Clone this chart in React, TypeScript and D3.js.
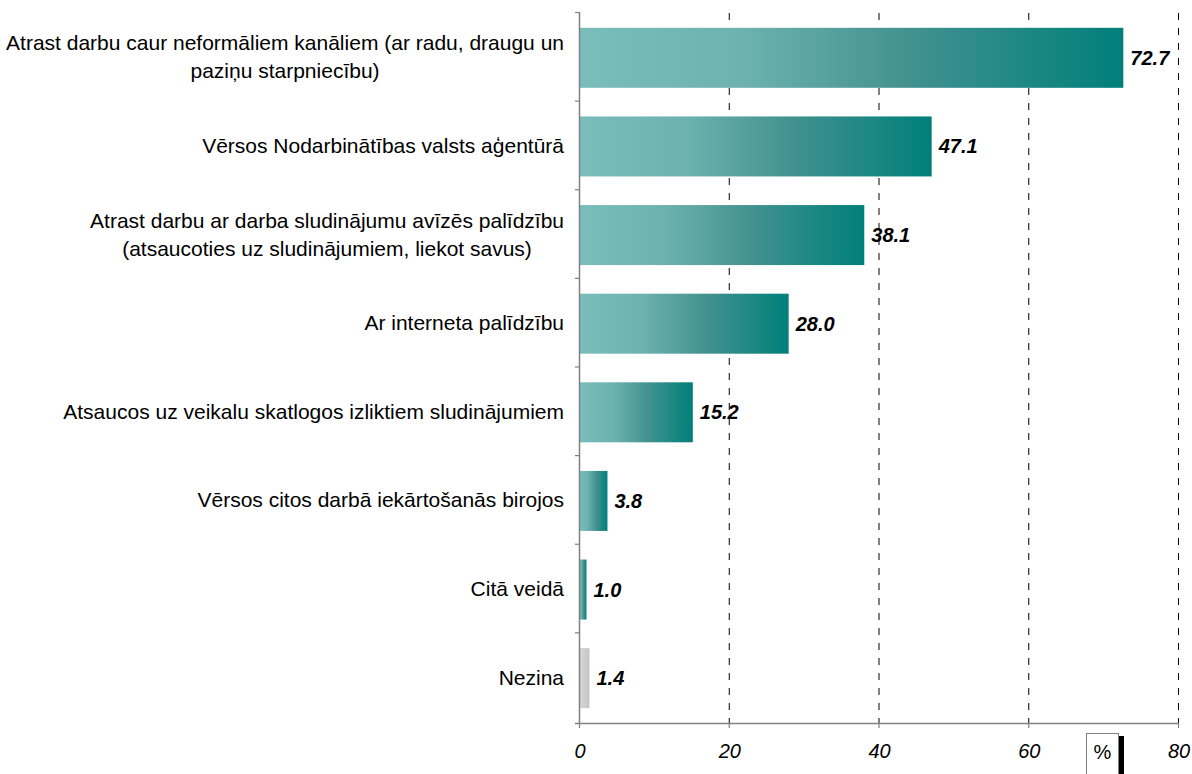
import React, { useEffect, useRef } from "react";
import * as d3 from "d3";

const categories: string[][] = [
  ["Atrast darbu caur neformāliem kanāliem (ar radu, draugu un", "paziņu starpniecību)"],
  ["Vērsos Nodarbinātības valsts aģentūrā"],
  ["Atrast darbu ar darba sludinājumu avīzēs palīdzību", "(atsaucoties uz sludinājumiem, liekot savus)"],
  ["Ar interneta palīdzību"],
  ["Atsaucos uz veikalu skatlogos izliktiem sludinājumiem"],
  ["Vērsos citos darbā iekārtošanās birojos"],
  ["Citā veidā"],
  ["Nezina"],
];
const values: number[] = [72.7, 47.1, 38.1, 28.0, 15.2, 3.8, 1.0, 1.4];
const isGrey: boolean[] = [false, false, false, false, false, false, false, true];
const xTicks: number[] = [0, 20, 40, 60, 80];
const unitLabel = "%";

const W = 1192;
const H = 774;
const FONT = "'Liberation Sans', Arial, sans-serif";

export default function App() {
  const ref = useRef<SVGSVGElement | null>(null);

  useEffect(() => {
    const svg = d3.select(ref.current);
    svg.selectAll("*").remove();

    const x = d3.scaleLinear().domain([0, 80]).range([579, 1178]);
    const y = d3
      .scaleBand<number>()
      .domain(d3.range(categories.length))
      .range([12, 721])
      .padding(0);
    const barH = 60;
    const barOff = (y.bandwidth() - barH) / 2 + 1.5;

    const defs = svg.append("defs");
    const teal = defs
      .append("linearGradient")
      .attr("id", "gTeal")
      .attr("x1", "0")
      .attr("x2", "1")
      .attr("y1", "0")
      .attr("y2", "0");
    [
      [0, "#7ABEBB"],
      [0.3, "#6DB2AF"],
      [0.6, "#439290"],
      [1, "#007F7A"],
    ].forEach(([o, c]) => teal.append("stop").attr("offset", o as number).attr("stop-color", c as string));
    const grey = defs
      .append("linearGradient")
      .attr("id", "gGrey")
      .attr("x1", "0")
      .attr("x2", "1")
      .attr("y1", "0")
      .attr("y2", "0");
    [
      [0, "#DADADA"],
      [1, "#C4C4C4"],
    ].forEach(([o, c]) => grey.append("stop").attr("offset", o as number).attr("stop-color", c as string));

    // gridlines
    svg
      .append("g")
      .selectAll("line")
      .data(xTicks.filter((t) => t > 0))
      .join("line")
      .attr("x1", (d) => x(d) + 0.5)
      .attr("x2", (d) => x(d) + 0.5)
      .attr("y1", 13)
      .attr("y2", 723)
      .attr("stroke", "#000")
      .attr("stroke-width", 1)
      .attr("stroke-dasharray", "7,8");

    // bars
    svg
      .append("g")
      .selectAll("rect")
      .data(values)
      .join("rect")
      .attr("x", x(0))
      .attr("y", (_, i) => (y(i) as number) + barOff)
      .attr("width", (d) => x(d) - x(0))
      .attr("height", barH)
      .attr("fill", (_, i) => (isGrey[i] ? "url(#gGrey)" : "url(#gTeal)"));

    // value labels
    svg
      .append("g")
      .selectAll("text")
      .data(values)
      .join("text")
      .attr("x", (d) => x(d) + 7)
      .attr("y", (_, i) => (y(i) as number) + barOff + barH / 2 + 7)
      .attr("font-family", FONT)
      .attr("font-size", 20)
      .attr("font-weight", "bold")
      .attr("font-style", "italic")
      .attr("fill", "#000")
      .text((d) => d.toFixed(1));

    // y axis
    const axisColor = "#808080";
    svg
      .append("line")
      .attr("x1", x(0) + 0.5)
      .attr("x2", x(0) + 0.5)
      .attr("y1", 12)
      .attr("y2", 724)
      .attr("stroke", axisColor)
      .attr("stroke-width", 1.5);
    svg
      .append("g")
      .selectAll("line")
      .data(d3.range(categories.length))
      .join("line")
      .attr("x1", x(0) - 4)
      .attr("x2", x(0))
      .attr("y1", (i) => (y(i) as number) + 0.5)
      .attr("y2", (i) => (y(i) as number) + 0.5)
      .attr("stroke", axisColor)
      .attr("stroke-width", 1.2);

    // x axis
    svg
      .append("line")
      .attr("x1", x(0) - 4)
      .attr("x2", x(80) + 1)
      .attr("y1", 723.5)
      .attr("y2", 723.5)
      .attr("stroke", axisColor)
      .attr("stroke-width", 1.5);
    svg
      .append("g")
      .selectAll("line")
      .data(xTicks)
      .join("line")
      .attr("x1", (d) => x(d) + 0.5)
      .attr("x2", (d) => x(d) + 0.5)
      .attr("y1", 723)
      .attr("y2", 728)
      .attr("stroke", axisColor)
      .attr("stroke-width", 1.2);
    svg
      .append("g")
      .selectAll("text")
      .data(xTicks)
      .join("text")
      .attr("x", (d) => x(d) + 1)
      .attr("y", 758)
      .attr("text-anchor", "middle")
      .attr("font-family", FONT)
      .attr("font-size", 20)
      .attr("font-style", "italic")
      .attr("fill", "#000")
      .text((d) => String(d));

    // % box
    svg
      .append("rect")
      .attr("x", 1118)
      .attr("y", 736)
      .attr("width", 6)
      .attr("height", 40)
      .attr("fill", "#000");
    svg
      .append("rect")
      .attr("x", 1086.5)
      .attr("y", 733.5)
      .attr("width", 32)
      .attr("height", 45)
      .attr("fill", "#fff")
      .attr("stroke", "#808080")
      .attr("stroke-width", 1);
    svg
      .append("text")
      .attr("x", 1102.5)
      .attr("y", 759)
      .attr("text-anchor", "middle")
      .attr("font-family", FONT)
      .attr("font-size", 20)
      .attr("fill", "#000")
      .text(unitLabel);

    // category labels
    const right = 564;
    const lineH = 28;
    categories.forEach((lines, i) => {
      const cy = (y(i) as number) + barOff + barH / 2;
      const g = svg.append("g");
      const texts = lines.map((ln, j) =>
        g
          .append("text")
          .attr("y", cy + 6.5 + (j - (lines.length - 1) / 2) * lineH)
          .attr("font-family", FONT)
          .attr("font-size", 21)
          .attr("fill", "#000")
          .text(ln)
      );
      if (lines.length === 1) {
        texts[0].attr("x", right).attr("text-anchor", "end");
      } else {
        const maxW = d3.max(texts, (t) => (t.node() as SVGTextElement).getComputedTextLength()) || 0;
        texts.forEach((t) => t.attr("x", right - maxW / 2).attr("text-anchor", "middle"));
      }
    });
  }, []);

  return (
    <svg
      ref={ref}
      width={W}
      height={H}
      style={{ position: "absolute", left: 0, top: 0, background: "#fff" }}
    />
  );
}
